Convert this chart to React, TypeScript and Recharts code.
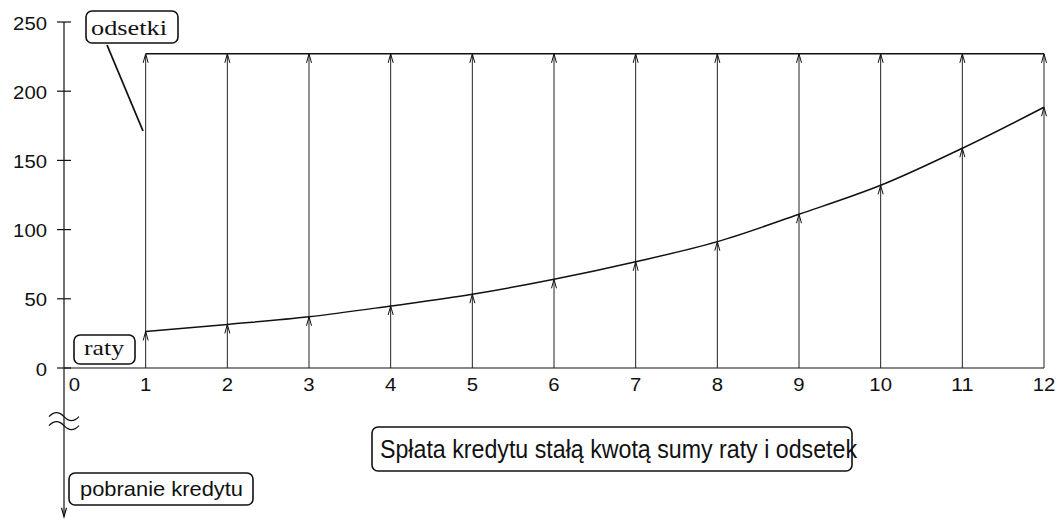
import { ComposedChart, Line, XAxis, YAxis, ReferenceLine, ReferenceDot } from 'recharts'

// miesiące spłaty (oś X)
const miesiace = [1, 2, 3, 4, 5, 6, 7, 8, 9, 10, 11, 12]
// część kapitałowa raty
const raty = [26.4, 31.5, 37, 44.8, 53.3, 64.1, 76.8, 91.3, 111.1, 132, 158.8, 188.4]
// stała kwota: rata + odsetki
const sumaRatyIOdsetek = [227, 227, 227, 227, 227, 227, 227, 227, 227, 227, 227, 227]
// pobranie kredytu w chwili 0 (poniżej osi, za przerwą)
const pobranieKredytu = -107.5
const przerwaOsi = -38

const xTicks = [0, 1, 2, 3, 4, 5, 6, 7, 8, 9, 10, 11, 12]
const yTicks = [0, 50, 100, 150, 200, 250]

const data = miesiace.map((m, i) => ({ m, raty: raty[i], suma: sumaRatyIOdsetek[i] }))

const INK = '#111'
const SANS = '"Liberation Sans", Arial, Helvetica, sans-serif'
const SERIF = '"Liberation Serif", "Times New Roman", serif'

function UpArrow(p: any) {
  if (p.cx == null || p.cy == null) return <g key={p.key} />
  return (
    <path
      key={p.key ?? p.index}
      d={`M${p.cx - 2.5},${p.cy + 9} L${p.cx},${p.cy} L${p.cx + 2.5},${p.cy + 9}`}
      fill="none"
      stroke={INK}
      strokeWidth={1}
    />
  )
}

function DownArrow(p: any) {
  return (
    <path
      d={`M${p.cx - 2.5},${p.cy - 9} L${p.cx},${p.cy} L${p.cx + 2.5},${p.cy - 9}`}
      fill="none"
      stroke={INK}
      strokeWidth={1.2}
    />
  )
}

function Przerwa(p: any) {
  const { cx, cy } = p
  return (
    <g fill="none" stroke={INK} strokeWidth={1.3}>
      <path d={`M${cx - 15},${cy - 4} q7.5,-8 15,0 t15,0`} />
      <path d={`M${cx - 15},${cy + 5} q7.5,-8 15,0 t15,0`} />
    </g>
  )
}

function YTick({ x, y, payload }: any) {
  const s = String(payload.value)
  return (
    <g>
      <line x1={x - 7} x2={x + 7} y1={y} y2={y} stroke={INK} strokeWidth={1.2} />
      <text
        x={x - 17}
        y={y + 7.5}
        textAnchor="end"
        fontSize={18}
        fontFamily={SANS}
        fill={INK}
        textLength={s.length * 11.3}
        lengthAdjust="spacingAndGlyphs"
      >
        {s}
      </text>
    </g>
  )
}

function XTick({ x, y, payload }: any) {
  const s = String(payload.value)
  const dx = payload.value === 0 ? 10.5 : 0
  return (
    <text
      x={x + dx}
      y={y + 22.5}
      textAnchor="middle"
      fontSize={18}
      fontFamily={SANS}
      fill={INK}
      textLength={s.length * 11.3}
      lengthAdjust="spacingAndGlyphs"
    >
      {s}
    </text>
  )
}

function Opisy() {
  return (
    <g>
      <rect x={86} y={11} width={92} height={32} rx={6} fill="#fff" stroke={INK} strokeWidth={1.6} />
      <text x={91} y={35} fontSize={22} fontFamily={SERIF} fill={INK} textLength={76} lengthAdjust="spacingAndGlyphs">
        odsetki
      </text>
      <line x1={107} y1={45} x2={143} y2={131} stroke={INK} strokeWidth={1.8} />

      <rect x={74} y={335} width={61} height={29} rx={6} fill="#fff" stroke={INK} strokeWidth={1.6} />
      <text x={84} y={355} fontSize={22} fontFamily={SERIF} fill={INK} textLength={40} lengthAdjust="spacingAndGlyphs">
        raty
      </text>

      <rect x={69} y={473} width={184} height={32} rx={6} fill="#fff" stroke={INK} strokeWidth={1.6} />
      <text x={80} y={495.5} fontSize={21} fontFamily={SANS} fill={INK} textLength={163} lengthAdjust="spacingAndGlyphs">
        pobranie kredytu
      </text>

      <rect x={372} y={427} width={480} height={44} rx={6} fill="#fff" stroke={INK} strokeWidth={1.6} />
      <text x={380} y={458} fontSize={25} fontFamily={SANS} fill={INK} textLength={477} lengthAdjust="spacingAndGlyphs">
        Spłata kredytu stałą kwotą sumy raty i odsetek
      </text>
    </g>
  )
}

export default function App() {
  return (
    <div style={{ position: 'absolute', left: 0, top: 0, width: 1058, height: 520, background: '#fff' }}>
      <ComposedChart width={1058} height={520} data={data} margin={{ top: 22, right: 14, bottom: 122, left: 0 }}>
        <XAxis
          type="number"
          dataKey="m"
          domain={[0, 12]}
          ticks={xTicks}
          tickLine={false}
          tickSize={0}
          tickMargin={0}
          height={30}
          axisLine={{ stroke: INK, strokeWidth: 1.2 }}
          tick={(p: any) => <XTick {...p} />}
        />
        <YAxis
          type="number"
          domain={[0, 250]}
          ticks={yTicks}
          width={64}
          tickLine={false}
          tickSize={0}
          tickMargin={0}
          axisLine={{ stroke: INK, strokeWidth: 1.2 }}
          tick={(p: any) => <YTick {...p} />}
        />
        {data.map((d) => (
          <ReferenceLine
            key={`v${d.m}`}
            segment={[{ x: d.m, y: 0 }, { x: d.m, y: d.suma }]}
            stroke="#222"
            strokeWidth={1}
            ifOverflow="visible"
          />
        ))}
        <ReferenceLine
          segment={[{ x: 0, y: 0 }, { x: 0, y: pobranieKredytu }]}
          stroke={INK}
          strokeWidth={1.2}
          ifOverflow="visible"
        />
        <ReferenceDot x={0} y={pobranieKredytu} ifOverflow="visible" shape={(p: any) => <DownArrow {...p} />} />
        <ReferenceDot x={0} y={przerwaOsi} ifOverflow="visible" shape={(p: any) => <Przerwa {...p} />} />
        <Line
          type="linear"
          dataKey="suma"
          stroke={INK}
          strokeWidth={1.5}
          dot={(p: any) => <UpArrow {...p} key={`s${p.index}`} />}
          activeDot={false}
          isAnimationActive={false}
        />
        <Line
          type="monotone"
          dataKey="raty"
          stroke={INK}
          strokeWidth={1.5}
          dot={(p: any) => <UpArrow {...p} key={`r${p.index}`} />}
          activeDot={false}
          isAnimationActive={false}
        />
        <Opisy />
      </ComposedChart>
    </div>
  )
}
